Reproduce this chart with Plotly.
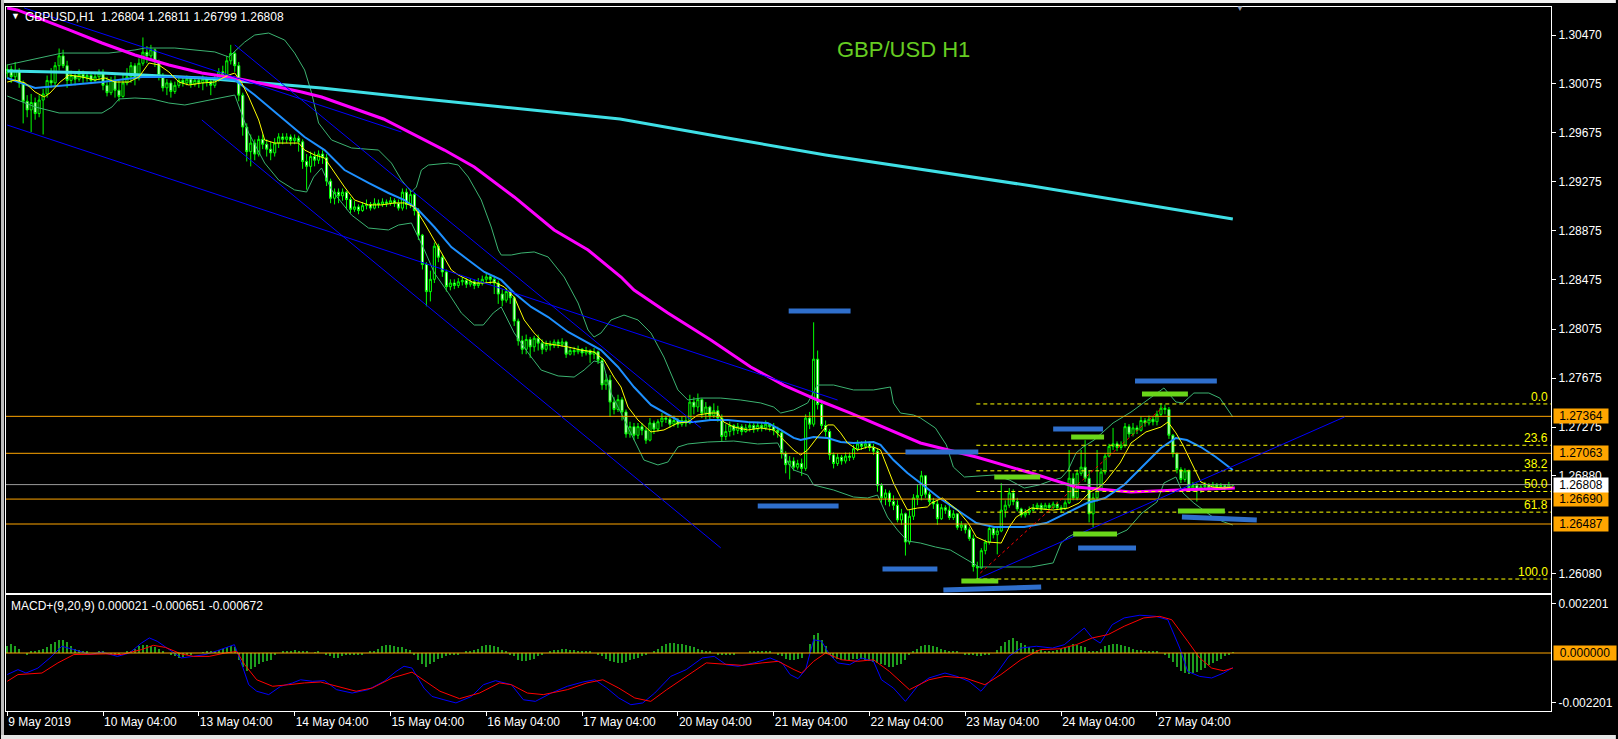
import plotly.graph_objects as go

# ---------------- chart values ----------------
first_open = 1.3016
close = [
    1.3019, 1.3013, 1.3018, 1.3008, 1.2993, 1.2986, 1.2992, 1.2983, 1.2994, 1.2999,
    1.3010, 1.3008, 1.3022, 1.3030, 1.3022, 1.3010, 1.3014, 1.3011, 1.3015, 1.3012,
    1.3014, 1.3010, 1.3013, 1.3016, 1.3006, 1.3000, 1.3010, 1.3002, 1.2997, 1.3008,
    1.3013, 1.3022, 1.3012, 1.3024, 1.3033, 1.3030, 1.3035, 1.3025, 1.3014, 1.3004,
    1.3008, 1.3001, 1.3006, 1.3010, 1.3008, 1.3011, 1.3007, 1.3010, 1.3008, 1.3011,
    1.3009, 1.3006, 1.3011, 1.3017, 1.3014, 1.3026, 1.3032, 1.3022, 1.2998, 1.2972,
    1.2952, 1.2959, 1.2950, 1.2962, 1.2958, 1.2954, 1.2951, 1.2959, 1.2964, 1.2962,
    1.2964, 1.2961, 1.2963, 1.2960, 1.2944, 1.2940, 1.2948, 1.2945, 1.2950, 1.2947,
    1.2928, 1.2914, 1.2919, 1.2916, 1.2919, 1.2913, 1.2905, 1.2907, 1.2904, 1.2908,
    1.2909, 1.2906, 1.2910, 1.2909, 1.2911, 1.2910, 1.2912, 1.2910, 1.2906, 1.2919,
    1.2909, 1.2917, 1.2904, 1.2884, 1.2860, 1.2838, 1.2848, 1.2875, 1.2866, 1.2854,
    1.2842, 1.2845, 1.2843, 1.2846, 1.2847, 1.2844, 1.2846, 1.2843, 1.2845, 1.2848,
    1.2850, 1.2848, 1.2845, 1.2836, 1.2831, 1.2838, 1.2833, 1.2814, 1.2798, 1.2791,
    1.2799, 1.2793, 1.2800, 1.2796, 1.2791, 1.2795, 1.2794, 1.2797, 1.2795, 1.2797,
    1.2787, 1.2790, 1.2789, 1.2791, 1.2788, 1.2790, 1.2787, 1.2789, 1.2782, 1.2762,
    1.2766, 1.2748, 1.2742, 1.2750, 1.2740, 1.2722, 1.2728, 1.2721, 1.2728, 1.2725,
    1.2717, 1.2731, 1.2726, 1.2732, 1.2735, 1.2734, 1.2730, 1.2733, 1.2730, 1.2733,
    1.2731, 1.2748, 1.2744, 1.2750, 1.2739, 1.2744, 1.2737, 1.2741, 1.2735, 1.2720,
    1.2724, 1.2729, 1.2725, 1.2728, 1.2724, 1.2727, 1.2729, 1.2726, 1.2729, 1.2727,
    1.2730, 1.2728, 1.2725, 1.2723, 1.2706, 1.2697, 1.2700, 1.2695, 1.2698, 1.2694,
    1.2735, 1.2730, 1.2783, 1.2746, 1.2729, 1.2724, 1.2705, 1.2698, 1.2703, 1.2700,
    1.2704, 1.2703, 1.2710, 1.2714, 1.2712, 1.2714, 1.2711, 1.2708, 1.2680, 1.2670,
    1.2674, 1.2667, 1.2664, 1.2652, 1.2657, 1.2634, 1.2655, 1.2670, 1.2672, 1.2688,
    1.2673, 1.2667, 1.2665, 1.2653, 1.2662, 1.2660, 1.2654, 1.2657, 1.2646, 1.2648,
    1.2644, 1.2637, 1.2614, 1.2613, 1.2627, 1.2634, 1.2645, 1.2640, 1.2643, 1.2660,
    1.2664, 1.2674, 1.2667, 1.2661, 1.2656, 1.2658, 1.2660, 1.2662, 1.2664, 1.2661,
    1.2664, 1.2662, 1.2665, 1.2662, 1.2661, 1.2666, 1.2686, 1.2670, 1.2690, 1.2695,
    1.2686, 1.2657, 1.2670, 1.2676, 1.2691, 1.2704, 1.2712, 1.2714, 1.2711, 1.2713,
    1.2728, 1.2722, 1.2727, 1.2725, 1.2733, 1.2731, 1.2734, 1.2732, 1.2738, 1.2743,
    1.2742, 1.2721, 1.2706, 1.2693, 1.2685, 1.2692, 1.2678, 1.2680, 1.2676, 1.2679,
    1.2680, 1.2678, 1.2681, 1.2679, 1.2680, 1.2678, 1.26804, 1.26808,
]
high = [
    1.3023, 1.3022, 1.3025, 1.3020, 1.3010, 1.2998, 1.2999, 1.2996, 1.2998, 1.3003,
    1.3014, 1.3020, 1.3025, 1.3036, 1.3035, 1.3026, 1.3018, 1.3017, 1.3019, 1.3018,
    1.3017, 1.3016, 1.3017, 1.3019, 1.3019, 1.3013, 1.3013, 1.3014, 1.3010, 1.3015,
    1.3020, 1.3025, 1.3024, 1.3028, 1.3045, 1.3038, 1.3039, 1.3036, 1.3027, 1.3016,
    1.3011, 1.3010, 1.3009, 1.3013, 1.3013, 1.3014, 1.3013, 1.3013, 1.3012, 1.3014,
    1.3013, 1.3012, 1.3014, 1.3020, 1.3022, 1.3030, 1.3039, 1.3034, 1.3025, 1.3000,
    1.2975, 1.2966, 1.2962, 1.2965, 1.2966, 1.2962, 1.2960, 1.2963, 1.2967, 1.2967,
    1.2967, 1.2966, 1.2966, 1.2965, 1.2962, 1.2950, 1.2952, 1.2952, 1.2953, 1.2953,
    1.2950, 1.2930, 1.2922, 1.2922, 1.2922, 1.2920, 1.2915, 1.2912, 1.2909, 1.2911,
    1.2913, 1.2911, 1.2914, 1.2913, 1.2914, 1.2913, 1.2915, 1.2914, 1.2913, 1.2922,
    1.2922, 1.2921, 1.2919, 1.2906, 1.2885, 1.2862, 1.2855, 1.2878, 1.2877, 1.2868,
    1.2856, 1.2848, 1.2848, 1.2849, 1.2850, 1.2849, 1.2849, 1.2848, 1.2849, 1.2851,
    1.2853, 1.2852, 1.2851, 1.2847, 1.2840, 1.2841, 1.2840, 1.2834, 1.2816, 1.2802,
    1.2803, 1.2801, 1.2802, 1.2803, 1.2799, 1.2798, 1.2798, 1.2799, 1.2799, 1.2800,
    1.2798, 1.2793, 1.2793, 1.2794, 1.2792, 1.2793, 1.2791, 1.2792, 1.2790, 1.2784,
    1.2771, 1.2770, 1.2752, 1.2754, 1.2752, 1.2742, 1.2732, 1.2731, 1.2731, 1.2731,
    1.2727, 1.2735, 1.2733, 1.2734, 1.2739, 1.2737, 1.2736, 1.2737, 1.2735, 1.2736,
    1.2736, 1.2754, 1.2752, 1.2755, 1.2751, 1.2748, 1.2745, 1.2747, 1.2745, 1.2738,
    1.2730, 1.2732, 1.2730, 1.2731, 1.2730, 1.2730, 1.2732, 1.2731, 1.2732, 1.2731,
    1.2733, 1.2731, 1.2731, 1.2728, 1.2725, 1.2708, 1.2704, 1.2703, 1.2701, 1.2702,
    1.2738, 1.2740, 1.2813, 1.2790, 1.2750, 1.2733, 1.2726, 1.2707, 1.2706, 1.2705,
    1.2707, 1.2707, 1.2713, 1.2717, 1.2716, 1.2717, 1.2716, 1.2714, 1.2710, 1.2682,
    1.2677, 1.2676, 1.2672, 1.2668, 1.2661, 1.2658, 1.2660, 1.2673, 1.2681, 1.2692,
    1.2688, 1.2675, 1.2670, 1.2668, 1.2665, 1.2664, 1.2665, 1.2660, 1.2657, 1.2651,
    1.2649, 1.2646, 1.2640, 1.2618, 1.2629, 1.2636, 1.2648, 1.2647, 1.2646, 1.2682,
    1.2668, 1.2678, 1.2677, 1.2670, 1.2662, 1.2661, 1.2663, 1.2665, 1.2666, 1.2666,
    1.2666, 1.2666, 1.2667, 1.2667, 1.2664, 1.2668, 1.2709, 1.2690, 1.2693, 1.2709,
    1.2717, 1.2692, 1.2674, 1.2709, 1.2694, 1.2706, 1.2714, 1.2727, 1.2716, 1.2716,
    1.2731, 1.2730, 1.2731, 1.2729, 1.2736, 1.2735, 1.2737, 1.2736, 1.2741, 1.2747,
    1.2746, 1.2744, 1.2722, 1.2707, 1.2695, 1.2694, 1.2693, 1.2683, 1.2682, 1.2681,
    1.2683, 1.2682, 1.2683, 1.2682, 1.2682, 1.2681, 1.2683, 1.26811,
]
low = [
    1.3012, 1.3008, 1.3010, 1.3004, 1.2975, 1.2980, 1.2968, 1.2978, 1.2980, 1.2966,
    1.2996, 1.3004, 1.3005, 1.3018, 1.3020, 1.3004, 1.3006, 1.3006, 1.3009, 1.3008,
    1.3009, 1.3007, 1.3008, 1.3010, 1.3002, 1.2997, 1.2998, 1.2996, 1.2993, 1.2996,
    1.3006, 1.3008, 1.3006, 1.3010, 1.3022, 1.3024, 1.3026, 1.3021, 1.3010, 1.3001,
    1.2998, 1.2996, 1.2999, 1.3004, 1.3005, 1.3006, 1.3004, 1.3005, 1.3004, 1.3002,
    1.3005, 1.2998, 1.3004, 1.3009, 1.3010, 1.3012, 1.3023, 1.3017, 1.2993, 1.2965,
    1.2944, 1.2940, 1.2945, 1.2948, 1.2954, 1.2948, 1.2945, 1.2948, 1.2955, 1.2958,
    1.2959, 1.2957, 1.2958, 1.2952, 1.2938, 1.2921, 1.2935, 1.2940, 1.2942, 1.2942,
    1.2924, 1.2910, 1.2909, 1.2910, 1.2912, 1.2905, 1.2902, 1.2903, 1.2901, 1.2903,
    1.2905, 1.2904, 1.2905, 1.2906, 1.2907, 1.2907, 1.2908, 1.2907, 1.2904, 1.2904,
    1.2905, 1.2906, 1.2900, 1.2880, 1.2856, 1.2826, 1.2830, 1.2845, 1.2862, 1.2850,
    1.2838, 1.2839, 1.2840, 1.2841, 1.2843, 1.2841, 1.2842, 1.2840, 1.2841, 1.2843,
    1.2845, 1.2844, 1.2836, 1.2828, 1.2826, 1.2829, 1.2828, 1.2810, 1.2794, 1.2787,
    1.2787, 1.2784, 1.2789, 1.2790, 1.2787, 1.2789, 1.2790, 1.2792, 1.2792, 1.2793,
    1.2784, 1.2786, 1.2786, 1.2787, 1.2785, 1.2786, 1.2780, 1.2783, 1.2779, 1.2758,
    1.2758, 1.2736, 1.2738, 1.2740, 1.2733, 1.2719, 1.2719, 1.2717, 1.2718, 1.2721,
    1.2714, 1.2716, 1.2722, 1.2724, 1.2728, 1.2731, 1.2727, 1.2728, 1.2727, 1.2728,
    1.2728, 1.2730, 1.2738, 1.2740, 1.2735, 1.2734, 1.2733, 1.2735, 1.2732, 1.2716,
    1.2717, 1.2720, 1.2721, 1.2722, 1.2721, 1.2723, 1.2724, 1.2723, 1.2724, 1.2724,
    1.2725, 1.2724, 1.2721, 1.2719, 1.2702, 1.2690, 1.2685, 1.2692, 1.2693, 1.2688,
    1.2692, 1.2726, 1.2728, 1.2742, 1.2726, 1.2720, 1.2701, 1.2694, 1.2696, 1.2697,
    1.2698, 1.2700, 1.2701, 1.2708, 1.2709, 1.2710, 1.2708, 1.2705, 1.2675, 1.2666,
    1.2664, 1.2663, 1.2660, 1.2650, 1.2648, 1.2623, 1.2632, 1.2652, 1.2664, 1.2668,
    1.2670, 1.2664, 1.2661, 1.2648, 1.2652, 1.2657, 1.2652, 1.2652, 1.2644, 1.2643,
    1.2641, 1.2635, 1.2610, 1.2604, 1.2612, 1.2624, 1.2632, 1.2637, 1.2624, 1.2642,
    1.2654, 1.2662, 1.2664, 1.2659, 1.2654, 1.2654, 1.2656, 1.2659, 1.2660, 1.2659,
    1.2660, 1.2660, 1.2661, 1.2660, 1.2658, 1.2660, 1.2665, 1.2668, 1.2668, 1.2688,
    1.2683, 1.2650, 1.2646, 1.2667, 1.2675, 1.2689, 1.2703, 1.2709, 1.2708, 1.2709,
    1.2711, 1.2719, 1.2720, 1.2722, 1.2724, 1.2728, 1.2729, 1.2729, 1.2729, 1.2736,
    1.2738, 1.2718, 1.2703, 1.2690, 1.2682, 1.2683, 1.2675, 1.2675, 1.2667, 1.2674,
    1.2677, 1.2675, 1.2677, 1.2676, 1.2677, 1.2676, 1.2677, 1.26799,
]

time_tick_bars = [0, 24, 48, 72, 96, 120, 144, 168, 192, 216, 240, 264, 288]
time_tick_text = ["9 May 2019", "10 May 04:00", "13 May 04:00", "14 May 04:00",
                  "15 May 04:00", "16 May 04:00", "17 May 04:00", "20 May 04:00",
                  "21 May 04:00", "22 May 04:00", "23 May 04:00", "24 May 04:00",
                  "27 May 04:00"]
price_ticks = [1.30470, 1.30075, 1.29675, 1.29275, 1.28875, 1.28475, 1.28075,
               1.27675, 1.27275, 1.26880, 1.26080]
macd_ticks = [0.002201, -0.002201]

# slow moving average (cyan)
cyan_bar = [0, 23.75, 48.75, 78.75, 102, 153.5, 179, 205, 256.75, 307]
cyan_val = [1.30177, 1.30160, 1.30120, 1.30038, 1.29957, 1.29786, 1.29639, 1.29493, 1.29240, 1.28971]

# moving average (magenta)
mag_bar = [0, 2.5, 15.5, 23.75, 32, 40.5, 48.75, 57, 65.5, 73.75, 78.75, 94.25, 109.5, 117, 127,
           137, 145.5, 153.75, 157, 165.5, 176.25, 186.25, 194.5, 203, 211.25, 219.5, 228.75,
           242.75, 256.5, 267.75, 281.5, 293.5, 307.5]
mag_val = [1.30690, 1.30674, 1.30511, 1.30405, 1.30307, 1.30226, 1.30160, 1.30120, 1.30063,
           1.30006, 1.29965, 1.29786, 1.29533, 1.29395, 1.29151, 1.28882, 1.28719, 1.28499,
           1.28393, 1.28206, 1.27986, 1.27766, 1.27619, 1.27497, 1.27391, 1.27277, 1.27147,
           1.27033, 1.26902, 1.26788, 1.26748, 1.26764, 1.26780]

# moving average (blue)
blue_bar = [0, 7, 15.5, 23.75, 33.75, 42, 52, 57, 62, 65.5, 70.5, 74.5, 79.5, 84.5, 90.5, 95.5,
            99.5, 103, 107, 111.25, 115.5, 119.5, 123.75, 127, 131.25, 135.5, 140.5, 145.5,
            148.75, 153, 157, 161.25, 165.5, 168.75, 172, 176.25, 180.5, 185.5, 190.5, 193.75,
            197, 198.75, 202, 205.5, 208.75, 212, 217, 218.75, 222, 225.5, 228.75, 233.5, 238,
            242.75, 247.25, 254.75, 260.25, 265.75, 270.5, 275, 279.75, 284.25, 289, 292.75,
            295.5, 299, 302.75, 307]
blue_val = [1.30120, 1.30038, 1.30063, 1.30087, 1.30128, 1.30128, 1.30120, 1.30103, 1.29981,
            1.29884, 1.29753, 1.29639, 1.29533, 1.29370, 1.29265, 1.29183, 1.29126, 1.29045,
            1.28906, 1.28743, 1.28637, 1.28540, 1.28475, 1.28369, 1.28255, 1.28173, 1.28051,
            1.27961, 1.27904, 1.27766, 1.27603, 1.27457, 1.27375, 1.27318, 1.27318, 1.27334,
            1.27334, 1.27318, 1.27310, 1.27253, 1.27188, 1.27171, 1.27196, 1.27188, 1.27155,
            1.27147, 1.27155, 1.27131, 1.27008, 1.26902, 1.26821, 1.26699, 1.26601, 1.26495,
            1.26463, 1.26463, 1.26495, 1.26585, 1.26658, 1.26699, 1.26805, 1.26951, 1.27106,
            1.27188, 1.27171, 1.27114, 1.27033, 1.26927]

# fast moving average (yellow)
yel_bar = [0, 2, 4.5, 7, 9.25, 10.75, 13.25, 15.5, 18.75, 22, 24.5, 27, 30.5, 33, 35.5, 38,
           40.5, 43, 45.5, 48.75, 52, 55.5, 57, 58.75, 60.5, 63, 64.5, 67, 70.5, 73, 74.5, 77,
           79.5, 82, 84.5, 87, 90.5, 93.75, 97, 99.5, 102, 104.5, 107, 109.5, 111.25, 113,
           114.5, 117, 119.5, 122, 124.5, 127, 129.5, 132, 134.5, 138, 140.5, 143.75, 147,
           149.5, 152, 153.75, 155.5, 158, 161.25, 164.5, 168, 170.5, 173, 176.25, 178, 179.5,
           182, 185.5, 188.75, 192, 194.5, 197, 198.75, 200.5, 203, 205.5, 207, 208.75, 210.5,
           213, 215.5, 217, 218.75, 220.5, 222, 223.75, 225.5, 228, 230.5, 231.5, 234.25, 238,
           240.75, 242.75, 245.5, 249, 251, 252.75, 256.5, 262, 265.75, 268.5, 271.25, 273.25,
           275, 278.75, 281.5, 285.25, 289, 290.75, 292.75, 294.5, 297.25, 299, 302, 304.75, 307]
yel_val = [1.30087, 1.30103, 1.30079, 1.30006, 1.29965, 1.29998, 1.30087, 1.30144, 1.30128,
           1.30103, 1.30120, 1.30087, 1.30087, 1.30128, 1.30242, 1.30226, 1.30169, 1.30087,
           1.30063, 1.30079, 1.30087, 1.30144, 1.30160, 1.30079, 1.29965, 1.29778, 1.29615,
           1.29590, 1.29590, 1.29590, 1.29533, 1.29493, 1.29468, 1.29346, 1.29232, 1.29126,
           1.29086, 1.29086, 1.29102, 1.29102, 1.29069, 1.28939, 1.28800, 1.28662, 1.28556,
           1.28515, 1.28491, 1.28450, 1.28450, 1.28458, 1.28418, 1.28336, 1.28149, 1.28043,
           1.27961, 1.27945, 1.27929, 1.27904, 1.27888, 1.27823, 1.27684, 1.27603, 1.27440,
           1.27334, 1.27237, 1.27253, 1.27310, 1.27318, 1.27375, 1.27391, 1.27391, 1.27318,
           1.27277, 1.27253, 1.27269, 1.27253, 1.27171, 1.27090, 1.27049, 1.27090, 1.27196,
           1.27294, 1.27294, 1.27229, 1.27147, 1.27090, 1.27114, 1.27114, 1.27090, 1.26951,
           1.26821, 1.26707, 1.26601, 1.26617, 1.26626, 1.26658, 1.26699, 1.26601, 1.26495,
           1.26381, 1.26341, 1.26332, 1.26463, 1.26544, 1.26617, 1.26601, 1.26617, 1.26658,
           1.26748, 1.26780, 1.26829, 1.26984, 1.27147, 1.27237, 1.27277, 1.27318, 1.27229,
           1.27131, 1.26951, 1.26829, 1.26788, 1.26780, 1.26788]

# Bollinger bands (green)
bbu_bar = [0, 12, 13.75, 25.5, 32, 34.5, 42, 52, 55.5, 59.5, 62, 65.5, 69.5, 72, 74.5, 76.25,
           78, 81.25, 86.25, 93, 96.25, 98.75, 101.25, 102.5, 103.75, 105.5, 110.5, 113, 115.5,
           118.75, 121.25, 123, 123.75, 126.25, 128.75, 132, 135.5, 139.5, 143, 145.5, 147,
           148.75, 151.25, 154.5, 158, 161.25, 164.5, 168, 170.5, 173.75, 178.75, 183.75,
           188.75, 192, 193.75, 197, 200.5, 203, 207, 212, 217, 221.25, 222, 223.75, 227,
           228.75, 232.5, 235.25, 237, 239.75, 243.5, 247.25, 251, 254.75, 258.5, 262, 264,
           265.75, 267.75, 269.5, 272.25, 277, 281.5, 286.25, 289.75, 292.75, 294.5, 297.25,
           301, 303.75, 307]
bbu_val = [1.30226, 1.30307, 1.30323, 1.30323, 1.30348, 1.30364, 1.30364, 1.30332, 1.30291,
           1.30413, 1.30470, 1.30486, 1.30429, 1.30323, 1.30185, 1.29998, 1.29753, 1.29615,
           1.29550, 1.29533, 1.29427, 1.29289, 1.29191, 1.29232, 1.29370, 1.29411, 1.29427,
           1.29411, 1.29313, 1.29126, 1.28906, 1.28719, 1.28678, 1.28678, 1.28694, 1.28703,
           1.28662, 1.28499, 1.28287, 1.28067, 1.28010, 1.28043, 1.28149, 1.28189, 1.28149,
           1.28043, 1.27847, 1.27579, 1.27497, 1.27513, 1.27513, 1.27497, 1.27473, 1.27440,
           1.27391, 1.27416, 1.27473, 1.27619, 1.27619, 1.27579, 1.27579, 1.27603, 1.27473,
           1.27391, 1.27375, 1.27351, 1.27269, 1.27131, 1.26951, 1.26870, 1.26878, 1.26886,
           1.26846, 1.26780, 1.26805, 1.26846, 1.26862, 1.26927, 1.27066, 1.27114, 1.27171,
           1.27310, 1.27399, 1.27513, 1.27595, 1.27481, 1.27473, 1.27554, 1.27554, 1.27513,
           1.27359]
bbl_bar = [0, 7, 13, 23.75, 26.25, 28, 32, 36.25, 40.5, 44.5, 52, 57, 60.5, 64.5, 68, 72, 75,
           76.75, 78.75, 81.25, 86.25, 90.5, 95.5, 98, 101.25, 104.5, 107, 110.5, 113.75, 117,
           119.25, 121.75, 123.75, 127, 130.5, 133.75, 138, 142, 144.5, 147, 149.25, 151.25,
           153.75, 156.25, 159.5, 163, 165.5, 168, 170.5, 175.5, 182, 188, 193, 195.5, 197,
           200.5, 202, 207, 212, 215.5, 218, 220.5, 223, 225.5, 228.75, 232.5, 236.25, 241.75,
           243.5, 256.5, 262, 264, 265.75, 267.75, 277.75, 280.5, 284.25, 288, 289.75, 292.75,
           294.5, 297.25, 302, 304.75, 307]
bbl_val = [1.29973, 1.29884, 1.29835, 1.29835, 1.29884, 1.29949, 1.29957, 1.29949, 1.29916,
           1.29900, 1.29949, 1.29981, 1.29672, 1.29427, 1.29289, 1.29208, 1.29191, 1.29313,
           1.29387, 1.29208, 1.29004, 1.28898, 1.28882, 1.28922, 1.28939, 1.28719, 1.28532,
           1.28369, 1.28206, 1.28108, 1.28108, 1.28206, 1.28255, 1.28043, 1.27880, 1.27741,
           1.27693, 1.27684, 1.27741, 1.27815, 1.27798, 1.27554, 1.27391, 1.27229, 1.27008,
           1.26968, 1.26992, 1.27114, 1.27139, 1.27155, 1.27163, 1.27139, 1.27147, 1.26992,
           1.26927, 1.26886, 1.26805, 1.26764, 1.26707, 1.26699, 1.26723, 1.26544, 1.26438,
           1.26349, 1.26332, 1.26300, 1.26275, 1.26170, 1.26137, 1.26137, 1.26170, 1.26332,
           1.26381, 1.26414, 1.26398, 1.26438, 1.26577, 1.26666, 1.26821, 1.26870, 1.26740,
           1.26658, 1.26544, 1.26504, 1.26479]

# MACD(9,20,9): main (blue), signal (red) in units of 1e-4, histogram per bar in 1e-4
macd_bar = [0, 2.7, 4.7, 7.7, 10.7, 13.7, 16.7, 20.7, 23.7, 27.6, 30.6, 33.6, 35.6, 37.6, 40.6,
            43.6, 46.6, 49.6, 52.6, 55.6, 56.9, 58.5, 60.5, 62.5, 65.5, 68.5, 71.5, 73.5, 76.5,
            79.5, 82.5, 86.4, 90.4, 94.4, 97.4, 99.4, 101.4, 104.4, 106.4, 109.4, 112.4, 116.3,
            119.3, 122.3, 126.3, 129.3, 132.3, 136.3, 140.3, 144.2, 147.2, 150.2, 153.2, 156.2,
            159.2, 162.2, 166.2, 170.1, 174.1, 177.1, 180.1, 183.1, 187.1, 191.1, 194.1, 196.1,
            198.1, 200.0, 202.0, 204.0, 206.0, 208.0, 211.0, 214.0, 217.0, 219.0, 222.0, 225.0,
            228.0, 230.9, 234.9, 237.9, 240.9, 243.9, 247.9, 250.9, 253.9, 257.8, 261.8, 264.8,
            267.8, 269.8, 271.8, 273.8, 276.8, 279.8, 283.7, 287.7, 290.7, 293.7, 295.7, 298.7,
            301.7, 304.7, 307]
macd_main = [-9.6, -7.4, -8.9, -6.7, -2.2, 3.0, 1.5, -0.7, 0.4, -1.5, 0, 4.4, 6.7, 5.2, 1.5,
             -2.2, -1.5, -0.7, 1.0, 3.0, 3.7, -3.7, -14.1, -17.0, -18.5, -14.8, -13.3, -11.9,
             -12.6, -12.3, -16.3, -17.8, -16.3, -12.6, -8.2, -5.9, -6.7, -15.6, -19.3, -20.8,
             -22.2, -19.3, -14.1, -12.3, -14.1, -20.8, -21.5, -17.8, -14.8, -12.9, -11.9, -15.6,
             -20.0, -23.0, -22.2, -17.8, -10.4, -7.4, -2.2, -1.5, -5.2, -5.9, -4.4, -2.2, -4.4,
             -9.6, -11.4, -7.4, 5.9, 5.2, -0.7, -4.4, -5.2, -2.2, -3.7, -11.9, -15.6, -21.5,
             -14.8, -11.1, -8.9, -10.4, -12.6, -17.0, -8.9, -1.5, 2.2, 3.0, 2.2, 3.7, 8.2, 11.1,
             6.7, 4.4, 12.6, 15.6, 16.8, 16.3, 14.8, 2.2, -8.2, -10.4, -11.1, -8.9, -6.5]
signal_bar = [0, 2.7, 8.7, 12.7, 16.7, 20.7, 24.7, 28.6, 33.6, 36.6, 39.6, 43.6, 46.6, 50.6,
              54.6, 57.5, 59.5, 62.5, 66.5, 70.5, 74.5, 78.5, 82.5, 87.4, 91.4, 96.4, 101.4,
              104.4, 108.4, 113.3, 118.3, 123.3, 126.3, 130.3, 134.3, 140.3, 145.2, 149.2, 153.2,
              157.2, 161.2, 165.2, 170.1, 175.1, 179.1, 184.1, 189.1, 193.1, 197.1, 199.0, 202.0,
              205.0, 209.0, 213.0, 217.0, 221.0, 226.0, 230.9, 234.9, 239.9, 244.9, 248.9, 253.9,
              258.8, 263.8, 267.8, 271.8, 275.8, 279.8, 284.7, 288.7, 291.7, 295.7, 298.7, 301.7,
              304.7, 307]
macd_signal = [-12.6, -9.6, -8.9, -4.4, -0.7, -0.4, -0.4, -0.7, 1.5, 3.4, 2.5, -0.4, -1.5, -1.5,
               0, 0.7, -5.2, -11.9, -14.8, -14.1, -13.3, -12.9, -14.8, -17.0, -15.6, -11.1, -8.5,
               -12.0, -17.0, -20.3, -17.8, -13.3, -14.1, -17.8, -18.5, -16.3, -13.3, -11.9, -15.6,
               -20.0, -21.5, -16.3, -10.4, -4.4, -4.9, -5.5, -4.4, -3.7, -7.4, -8.9, -3.7, 0,
               -3.0, -3.7, -3.0, -8.2, -16.3, -11.9, -10.4, -11.1, -14.1, -9.6, -3.0, 1.5, 1.9,
               3.7, 6.7, 8.2, 11.9, 15.6, 16.3, 14.8, 5.2, -2.2, -6.7, -7.9, -6.7]
macd_hist = [
    3, 4, 3, 2,
    0, -0.5, 0.5, 1, 1.5, 2,
    2.5, 4, 5, 6, 6, 5,
    3, 2, 1.5, 1, 0.5, 0, -0.3,
    0.5, 0.8, 0, -0.5, -0.7, -0.5, 0, 0.5, 1,
    2, 3, 3.5, 3.5, 3, 2.5, 2, 1,
    0, -1, -1.5, -2, -1.8, -1, -0.5,
    0, 0, 0.3, 0.5, 0.8, 1, 1.5, 2, 2.5, 3, 2.5,
    -3, -6, -8, -7, -6, -5, -4, -3.5, -3,
    -1, 0, 0.5, 1, 0.8, 1.5, 1, 0.5, 0.5, 0, 0.3, 0.5, 0,
    -1, -1.5, -2, -2, -1.5, -1, -0.5, -1, -1, -0.5, 0, 0.5,
    1, 2, 3, 3.5, 3.5, 3, 2.5, 2.5, 2, 1.5,
    -1, -3, -5, -6, -5, -4, -2.5, -2, -1.5, -1,
    -1, -0.5, 0, 0.5, 1, 1.5, 2,
    3, 3.5, 3.5, 3, 2.5, 1.5, 0.5,
    -0.5, -1.5, -3, -3.5, -3.5, -3, -2.5, -1.5, -0.5, 0,
    1, 1.5, 1.5, 2, 2, 1.5, 1.5, 1, 1, 0.5, 0.5, 0, -0.5,
    -1.5, -2.5, -3.5, -4, -4.5, -4.5, -4, -3, -2.5, -2, -1.5, -1, 0,
    1, 2, 3, 4, 4.5, 4.5, 4, 4, 3.5, 3, 2.5, 2, 1.5, 1, 0.5, 0,
    -0.5, -1, -1, -0.5, -0.5, 0, 0, 0,
    0.5, 1, 1, 1, 1, 0.5, 0,
    -0.5, -1.5, -2.5, -3, -3, -2.5, -2, 0,
    4, 8, 9, 6, 3,
    -1, -2, -2.5, -3, -3, -3, -2.5, -2.5, -2.5, -3, -3.5, -4, -4.5, -5, -5.5, -6, -6, -5.5, -5,
    -3, -1, 1, 2, 3, 3.5, 3.5, 3, 2.5, 2, 1.5, 1, 1, 0.5, 0,
    -0.5, -1, -1, -1.5, -1.5, -1, -0.5, 0,
    1.5, 3, 5, 6, 6.5, 5.5, 4.5, 3.5, 2.5,
    2, 1.5, 1.5, 1, 1, 1, 1.5, 2, 2.5,
    3, 4, 3.5, 3, 2.5, 1, 0.5, 1,
    2, 3, 3.5, 4, 4, 3.5, 3, 2.5, 2, 1.5, 1.5, 1, 1, 0.5, 0.5, 0,
    -0.5, -2, -4, -6, -8, -9, -9.5, -9, -8.5, -7.5, -6.5, -5.5, -4.5, -3.5, -2.5, -1.5, -0.8, 0.21,
]

# horizontal price levels
orange_levels = [1.27364, 1.27063, 1.26690, 1.26487]
current_price = 1.26808
fib_levels = [0.0, 23.6, 38.2, 50.0, 61.8, 100.0]
fib_high = 1.27465
fib_low = 1.26039
fib_start_bar = 242.75

# drawn objects: (bar0, bar1, price0, price1)
trend_lines = [
    (48.75, 178.75, 1.29778, 1.26292),
    (0.0, 208.0, 1.29737, 1.27497),
    (57.0, 173.75, 1.30389, 1.27269),
    (4.25, 98.75, 1.30690, 1.29680),
    (243.5, 335.0, 1.26047, 1.27359),
]
red_dotted = [(243.75, 289.5, 1.26088, 1.27440)]
blue_segments = [
    (195.75, 211.25, 1.28222, 1.28222),
    (188.0, 208.25, 1.26634, 1.26634),
    (225.0, 243.25, 1.27074, 1.27074),
    (219.25, 233.0, 1.26121, 1.26121),
    (234.5, 259.0, 1.25950, 1.25974),
    (262.0, 274.5, 1.27261, 1.27261),
    (268.25, 282.75, 1.26292, 1.26292),
    (282.5, 303.0, 1.27652, 1.27652),
    (294.25, 313.0, 1.26544, 1.26520),
]
green_segments = [
    (247.25, 258.75, 1.26870, 1.26870),
    (266.5, 274.75, 1.27196, 1.27196),
    (284.25, 295.75, 1.27546, 1.27546),
    (267.0, 278.0, 1.26406, 1.26406),
    (293.25, 305.0, 1.26593, 1.26593),
    (239.0, 248.25, 1.26023, 1.26023),
]

header_text = "GBPUSD,H1  1.26804 1.26811 1.26799 1.26808"
title_text = "GBP/USD H1"
macd_text = "MACD+(9,20,9) 0.000021 -0.000651 -0.000672"

# ---------------- layout geometry ----------------
W, H = 1618, 739
PL, PR, PT, PB = 5, 1553, 7, 711
MAIN_BOTTOM, MACD_TOP = 593, 595
XR0 = -0.3
XR1 = XR0 + (PR - PL) / 4.0
Y_MAIN = [1.259251, 1.306981]
Y_MACD = [-0.0025787, 0.0025787]
FONT = "Liberation Sans, Arial, sans-serif"


def px(xp):
    return (xp - PL) / (PR - PL)


def py(yp):
    return (PB - yp) / (PB - PT)


bars = list(range(len(close)))
opens = [first_open] + close[:-1]
highs = [max(h, o, c) for h, o, c in zip(high, opens, close)]
lows = [min(lo, o, c) for lo, o, c in zip(low, opens, close)]

fig = go.Figure()

fig.add_trace(go.Candlestick(
    x=bars, open=opens, high=highs, low=lows, close=close,
    increasing=dict(line=dict(color="#00FF00", width=1), fillcolor="#000000"),
    decreasing=dict(line=dict(color="#00FF00", width=1), fillcolor="#FFFFFF"),
    whiskerwidth=0, xaxis="x", yaxis="y", hoverinfo="skip", showlegend=False))


def add_line(xs, ys, color, width, xaxis="x", yaxis="y"):
    fig.add_trace(go.Scatter(x=xs, y=ys, mode="lines",
                             line=dict(color=color, width=width),
                             xaxis=xaxis, yaxis=yaxis, hoverinfo="skip",
                             showlegend=False))


add_line(bbu_bar, bbu_val, "#3CB371", 1)
add_line(bbl_bar, bbl_val, "#3CB371", 1)
add_line(cyan_bar, cyan_val, "#3FE0E6", 3)
add_line(mag_bar, mag_val, "#FF00FF", 3)
add_line(blue_bar, blue_val, "#1E90FF", 2)
add_line(yel_bar, yel_val, "#FFFF00", 1)

# MACD pane
fig.add_trace(go.Bar(x=bars, y=[v * 1e-4 for v in macd_hist], width=0.3,
                     marker=dict(color="#1E9E1E", line=dict(width=0)),
                     xaxis="x2", yaxis="y2", hoverinfo="skip", showlegend=False))
add_line(macd_bar, [v * 1e-4 for v in macd_main], "#0000FF", 1, "x2", "y2")
add_line(signal_bar, [v * 1e-4 for v in macd_signal], "#FF0000", 1, "x2", "y2")

shapes = []
# horizontal levels
for lv in orange_levels:
    shapes.append(dict(type="line", xref="paper", yref="y", x0=0, x1=1, y0=lv, y1=lv,
                       line=dict(color="#FFA500", width=1)))
shapes.append(dict(type="line", xref="paper", yref="y", x0=0, x1=1, y0=current_price,
                   y1=current_price, line=dict(color="#9A9A9A", width=1)))
shapes.append(dict(type="line", xref="paper", yref="y2", x0=0, x1=1, y0=0, y1=0,
                   line=dict(color="#FFA500", width=1)))
fib_prices = [fib_high - (fib_high - fib_low) * lv / 100.0 for lv in fib_levels]
for fp in fib_prices:
    shapes.append(dict(type="line", xref="x", yref="y", x0=fib_start_bar, x1=XR1, y0=fp, y1=fp,
                       line=dict(color="#FFFF00", width=1, dash="4px,3px")))
for b0, b1, p0, p1 in trend_lines:
    shapes.append(dict(type="line", xref="x", yref="y", x0=b0, x1=b1, y0=p0, y1=p1,
                       line=dict(color="#0000FF", width=1)))
for b0, b1, p0, p1 in red_dotted:
    shapes.append(dict(type="line", xref="x", yref="y", x0=b0, x1=b1, y0=p0, y1=p1,
                       line=dict(color="#FF0000", width=1, dash="dot")))
for b0, b1, p0, p1 in blue_segments:
    shapes.append(dict(type="line", xref="x", yref="y", x0=b0, x1=b1, y0=p0, y1=p1,
                       line=dict(color="#2F6FCC", width=5)))
for b0, b1, p0, p1 in green_segments:
    shapes.append(dict(type="line", xref="x", yref="y", x0=b0, x1=b1, y0=p0, y1=p1,
                       line=dict(color="#6AD61A", width=5)))
# window chrome
shapes.append(dict(type="rect", xref="paper", yref="paper", x0=px(0), x1=px(W), y0=py(0),
                   y1=py(3), fillcolor="#F0F0F0", line=dict(width=0), layer="above"))
shapes.append(dict(type="rect", xref="paper", yref="paper", x0=px(0), x1=px(3), y0=py(0),
                   y1=py(H), fillcolor="#BEBEBE", line=dict(width=0), layer="above"))
shapes.append(dict(type="rect", xref="paper", yref="paper", x0=px(0), x1=px(W), y0=py(735),
                   y1=py(H), fillcolor="#E6E6E6", line=dict(width=0), layer="above"))

annotations = []


def text_ann(x, y, text, size, color, xanchor="left", yanchor="middle", **kw):
    d = dict(xref="paper", yref="paper", x=x, y=y, text=text, showarrow=False,
             xanchor=xanchor, yanchor=yanchor, font=dict(family=FONT, size=size, color=color))
    d.update(kw)
    annotations.append(d)


text_ann(px(8), py(16), "▼", 9, "#FFFFFF")
text_ann(px(22), py(17), header_text, 12, "#FFFFFF")
text_ann(px(836), py(49), title_text, 22, "#66CC22")
text_ann(px(8), py(606), macd_text, 12, "#FFFFFF")
text_ann(px(1241), py(9), "▼", 8, "#8A98B0", xanchor="center")

for lv, fp in zip(fib_levels, fib_prices):
    annotations.append(dict(xref="paper", yref="y", x=1, y=fp, text="%.1f" % lv,
                            showarrow=False, xanchor="right", yanchor="bottom",
                            xshift=-1, yshift=-2,
                            font=dict(family=FONT, size=12, color="#FFFF00")))


def price_box(y, yref, text, bg, width=52):
    annotations.append(dict(xref="paper", yref=yref, x=1, y=y, text=text, showarrow=False,
                            xanchor="left", yanchor="middle", xshift=2, bgcolor=bg,
                            width=width, height=12, borderpad=1, align="center",
                            font=dict(family=FONT, size=12, color="#000000")))


for lv in orange_levels:
    price_box(lv, "y", "%.5f" % lv, "#FFA500")
price_box(current_price, "y", "%.5f" % current_price, "#FFFFFF")
price_box(0, "y2", "0.000000", "#FFA500", width=60)

axis_common = dict(showgrid=False, zeroline=False, showline=True, mirror=True,
                   linecolor="#FFFFFF", linewidth=1, fixedrange=True)
tickfont = dict(family=FONT, size=12, color="#FFFFFF")

fig.update_layout(
    width=W, height=H,
    margin=dict(l=PL, r=W - PR, t=PT, b=H - PB),
    paper_bgcolor="#000000", plot_bgcolor="#000000",
    showlegend=False, hovermode=False, bargap=0, boxgap=0.25,
    xaxis=dict(domain=[0, 1], range=[XR0, XR1], anchor="y", showticklabels=False, ticks="",
               rangeslider=dict(visible=False), **axis_common),
    xaxis2=dict(domain=[0, 1], range=[XR0, XR1], anchor="y2", matches="x",
                tickmode="array", tickvals=time_tick_bars, ticktext=time_tick_text,
                ticks="outside", ticklen=4, tickcolor="#FFFFFF", tickwidth=1,
                ticklabelposition="outside right", tickfont=tickfont,
                rangeslider=dict(visible=False), **axis_common),
    yaxis=dict(domain=[(PB - MAIN_BOTTOM) / (PB - PT), 1], range=Y_MAIN, anchor="x",
               side="right", tickmode="array", tickvals=price_ticks,
               ticktext=["%.5f" % v for v in price_ticks], ticks="outside", ticklen=4,
               tickcolor="#FFFFFF", tickfont=tickfont, **axis_common),
    yaxis2=dict(domain=[0, (PB - MACD_TOP) / (PB - PT)], range=Y_MACD, anchor="x2",
                side="right", tickmode="array", tickvals=macd_ticks,
                ticktext=["%.6f" % v for v in macd_ticks], ticks="outside", ticklen=4,
                tickcolor="#FFFFFF", tickfont=tickfont, **axis_common),
    shapes=shapes,
    annotations=annotations,
)

fig.write_html("out.html", config={"displayModeBar": False},
               post_script="document.body.style.margin='0';document.body.style.overflow='hidden';")
